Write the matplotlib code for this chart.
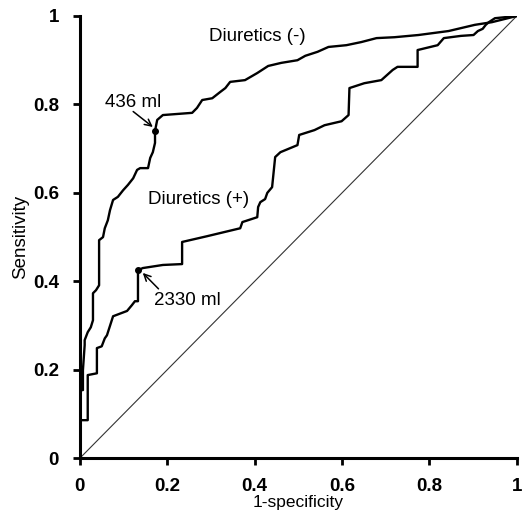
import matplotlib.pyplot as plt

# ROC curves, values
# diuretics (-)
fpr_neg = [0, 0, .007, .007, .011, .011, .018, .025, .030, .030, .037, .044, .044,
           .053, .057, .064, .069, .076, .087, .099, .110, .122, .131, .138, .156,
           .161, .167, .172, .172, .177, .190, .257, .268, .280, .303, .321, .333,
           .344, .378, .406, .431, .461, .498, .516, .544, .569, .610, .644, .679,
           .720, .775, .844, .904, .943, 1]
tpr_neg = [0, .154, .154, .199, .256, .267, .285, .296, .312, .373, .380, .391, .493,
           .500, .520, .538, .561, .584, .591, .606, .618, .633, .652, .656, .656,
           .679, .692, .713, .740, .765, .776, .781, .792, .810, .814, .828, .837,
           .851, .855, .871, .887, .894, .900, .910, .919, .930, .934, .941, .950,
           .952, .957, .966, .980, .986, 1]

# diuretics (+)
fpr_pos = [0, 0, .018, .018, .039, .039, .050, .057, .062, .076, .108, .119, .126,
           .133, .133, .144, .190, .234, .234, .291, .367, .372, .406, .408, .413,
           .424, .429, .440, .447, .459, .498, .502, .537, .560, .599, .615, .617,
           .651, .690, .716, .727, .773, .773, .819, .833, .872, .901, .911, .922,
           .929, .936, .950, 1]
tpr_pos = [0, .086, .086, .188, .192, .249, .253, .271, .278, .321, .333, .346, .355,
           .355, .425, .430, .437, .439, .489, .502, .520, .534, .545, .568, .579,
           .586, .600, .613, .681, .692, .708, .731, .742, .753, .762, .776, .837,
           .848, .855, .878, .885, .885, .923, .934, .950, .955, .957, .966, .971,
           .980, .986, .995, 1]

# cut-off points
cut_neg = (0.172, 0.740)
cut_pos = (0.133, 0.425)

plt.rcParams['font.family'] = ['Liberation Sans', 'DejaVu Sans']
fs = 13.5

fig = plt.figure(figsize=(5.22, 5.16), dpi=100)
ax = fig.add_axes([0.153, 0.112, 0.837, 0.857])

ax.plot([0, 1], [0, 1], color='#333333', lw=0.8)
ax.plot(fpr_neg, tpr_neg, color='black', lw=1.7)
ax.plot(fpr_pos, tpr_pos, color='black', lw=1.7)
ax.plot(*cut_neg, 'o', color='black', ms=4)
ax.plot(*cut_pos, 'o', color='black', ms=4)

ax.text(0.405, 0.953, 'Diuretics (-)', fontsize=fs, ha='center', va='center')
ax.text(0.156, 0.584, 'Diuretics (+)', fontsize=fs, ha='left', va='center')

ax.text(0.057, 0.805, '436 ml', fontsize=fs, ha='left', va='center')
ax.annotate('', xy=(0.167, 0.749), xytext=(0.122, 0.784),
            arrowprops=dict(arrowstyle='->', color='black', lw=1.1,
                            shrinkA=0, shrinkB=0, mutation_scale=12))
ax.text(0.170, 0.357, '2330 ml', fontsize=fs, ha='left', va='center')
ax.annotate('', xy=(0.144, 0.419), xytext=(0.180, 0.383),
            arrowprops=dict(arrowstyle='->', color='black', lw=1.1,
                            shrinkA=0, shrinkB=0, mutation_scale=12))

ax.set_xlim(0, 1)
ax.set_ylim(0, 1)
ticks = [0, 0.2, 0.4, 0.6, 0.8, 1]
labels = ['0', '0.2', '0.4', '0.6', '0.8', '1']
ax.set_xticks(ticks)
ax.set_xticklabels(labels, fontweight='bold', fontsize=fs)
ax.set_yticks(ticks)
ax.set_yticklabels(labels, fontweight='bold', fontsize=fs)
ax.tick_params(direction='out', length=5, width=2)
ax.tick_params(axis='x', pad=9)
ax.tick_params(axis='y', pad=10)

for side in ['top', 'right']:
    ax.spines[side].set_visible(False)
for side in ['left', 'bottom']:
    ax.spines[side].set_linewidth(2.2)

ax.set_ylabel('Sensitivity', fontsize=fs, labelpad=3)
ax.set_xlabel('1-specificity', fontsize=12.5, labelpad=0)

fig.savefig('out.png', dpi=100)
